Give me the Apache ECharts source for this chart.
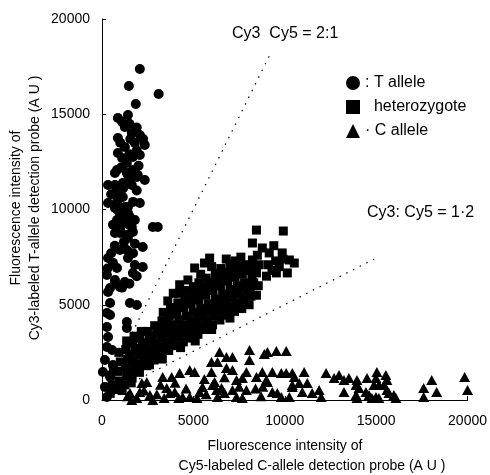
<!DOCTYPE html>
<html><head><meta charset="utf-8">
<script src="https://cdn.jsdelivr.net/npm/echarts@6/dist/echarts.min.js"></script>
<style>html,body{margin:0;padding:0;background:#fff}#c{width:490px;height:475px}</style>
</head><body><div id="c"></div>
<script>
var xTicks = [0, 5000, 10000, 15000, 20000];
var yTicks = [0, 5000, 10000, 15000, 20000];

var tAllele = [
[2070,17380],[1470,16480],[3100,16060],[1850,15540],
[1420,14960],[870,14800],[1250,14330],[1630,14020],[2070,13910],[870,13750],[2340,13390],[1800,13490],[1250,13280],[870,12970],[1690,12760],[2070,12860],[1360,12440],[820,12070],[1690,12070],[1360,11920],[2340,11550],[1910,11710],[330,11290],[710,11290],[1140,11390],[1630,11290],[710,10870],[1140,10660],[820,10400],[330,10340],[2070,10340],[1420,10130],[710,10080],[980,9820],[1530,9610],[1800,9450],[1140,9340],[2780,9080],[3050,9080],[710,8770],[1360,8660],[1690,8820],
[710,11920],[1420,11810],[1960,11810],[980,10660],[1250,10130],[870,9970],[1420,9820],[820,9450],[1250,9290],[1630,9080],[980,8770],[1420,8500],[2230,8030],[980,7870],[1360,7870],[330,7450],[1420,7450],[1800,7090],[2230,6980],[820,6930],[270,6560],[1690,6670],[710,6300],[1250,6190],[440,5880],[980,5930],[710,6140],
[500,7700],[1700,7700],[600,7200],[1900,6500],[1500,6100],[300,6900],[1100,5900],
[1100,14600],[1500,14500],[1900,14300],[1000,13500],[1550,13700],[2250,13700],[1100,12700],[1500,12900],[1900,13100],[1050,12200],[2000,12300],[1500,11600],[1150,11100],[1900,11000],[500,10800],[1700,10400],[1100,10000],[1250,9600],[1500,9200],[600,9200],[1000,9000],[1200,8300],[700,8100],[1800,8200],
[330,5670],[440,5090],[1530,5090],[1910,4990],[270,4570],[440,4460],[1360,4090],[1360,3780],[270,3830],[330,3310],[270,2780],[550,2620],[160,2100],[600,1840],[50,1470],[440,1210],[160,680],[550,520],[270,160]
];

var hetero = [
[450,350],[550,800],[480,1300],[620,1750],
[850,550],[950,1000],[880,1500],[1000,2000],[920,2500],
[1250,800],[1350,1250],[1280,1700],[1400,2150],[1300,2650],[1350,3100],
[1650,1150],[1750,1600],[1700,2050],[1800,2500],[1680,2950],[1750,3350],
[2050,1450],[2150,1900],[2100,2350],[2200,2800],[2080,3250],[2150,3600],
[2450,1800],[2550,2250],[2500,2700],[2600,3150],[2480,3600],
[2850,2100],[2950,2550],[2900,3000],[3000,3450],[2880,3900],
[3250,2350],[3350,2800],[3300,3250],[3400,3700],[3280,4150],[3350,4600],
[3650,2600],[3750,3050],[3700,3500],[3800,3950],[3680,4400],[3750,4850],[3600,5200],
[4050,2850],[4150,3300],[4100,3750],[4200,4200],[4080,4650],[4150,5100],[4200,5600],[4250,6050],
[4450,3050],[4550,3500],[4500,3950],[4600,4400],[4480,4850],[4550,5300],[4600,5750],
[4850,3250],[4950,3700],[4900,4150],[5000,4600],[4880,5050],[4950,5500],[5000,5950],[5070,6930],
[5250,3450],[5350,3900],[5300,4350],[5400,4800],[5280,5250],[5350,5700],[5300,6150],[5610,7190],
[5650,3700],[5750,4150],[5700,4600],[5800,5050],[5680,5500],[5750,5950],[5700,6400],[5890,7450],
[6050,3950],[6150,4400],[6100,4850],[6200,5300],[6080,5750],[6150,6200],[6200,6650],
[6450,4200],[6550,4650],[6500,5100],[6600,5550],[6480,6000],[6550,6450],[6500,6900],
[6850,4450],[6950,4900],[6900,5350],[7000,5800],[6880,6250],[6950,6700],[7000,7150],
[7250,4650],[7350,5100],[7300,5550],[7400,6000],[7280,6450],[7350,6900],[7300,7300],
[7650,4800],[7750,5250],[7700,5700],[7800,6150],[7680,6600],[7750,7050],[7900,6820],
[8050,5000],[8150,5450],[8100,5900],[8200,6350],[8080,6800],[8230,7350],[8230,8240],
[8450,5500],[8550,6000],[8450,6670],[8600,7100],[8500,7600],[8770,7980],[8450,8920],
[9000,6500],[9150,7720],[9100,7100],[9300,6800],
[9540,6670],[9500,7300],[9400,8100],[9700,7000],
[9860,7720],[10140,6670],[10250,7350],[10520,7190],[9920,8870],[9900,7400],
[1500,1450],[1900,1800],[2300,2100],[2700,2450],[3100,2700],[3500,3000],[3900,3300],[4300,3550],[4700,3800],[5100,4050],[5500,4350],[5900,4650],[6300,4900],[6700,5150],[7100,5400],[7500,5650],[7900,5900],[8300,6150],
[1500,2400],[1900,2700],[2300,3000],[2700,3400],[3100,3700],[3500,4100],[3900,4500],[4300,4900],[4700,5200],[5100,5400],[5500,5700],[5900,6000],[6300,6300],[6700,6500],[7100,6700],[7500,6900],[7900,7100],[8300,7000],
[3900,5600],[4700,6300],[5400,6600],[6000,7000],[6800,7400],[7600,7500],
[1100,500],[1600,900],[2600,1850],[3300,2150],[4300,2750],[5100,3100],[6000,3700],[7000,4300]
];

var cAllele = [
[6430,2520],[6810,2260],[7140,2260],[5990,1990],[6320,1990],[8070,2620],[8070,2100],[8880,2410],[9050,2520],[9540,2570],[10080,2570],[4800,1570],[5070,1470],[4250,1420],[3810,1210],[3320,1210],[2450,950],[2180,890],[5990,1470],[6810,1680],[7140,1570],[7900,1470],[7360,1050],[7680,1150],[8450,1210],[8770,1470],[9320,1470],[9810,1420],[10080,1420],[10410,1420],[8990,1050],[9050,950],[10410,680],[9320,420],[9590,370],[9810,160],[10250,160],[1530,370],[1630,0],[2070,420],[2620,260],[2780,0],[3540,630],[3710,370],[3980,420],[4410,160],[4800,160],[5340,420],[5500,680],[6050,790],[6270,520],[6320,160],[6160,950],[6540,630],[6700,370],[7140,520],[7360,160],[7680,100],[7900,520],
[11060,1470],[10520,1210],[10410,790],[10790,890],[11230,890],[10960,420],[11500,370],[11880,520],[11990,160],[12260,1420],[12700,1150],[12970,1310],[13240,1050],[13510,1150],[13240,420],[13950,1050],[13900,790],[14060,630],[13900,260],[13950,100],[14500,1150],[15040,1470],[14990,1150],[14880,790],[15150,790],[14440,420],[14610,260],[14770,100],[15530,1310],[15590,1050],[15420,790],[15590,520],[15700,370],[15970,260],[16080,100],[14990,160],[15150,100],[17600,630],[18040,1050],[18310,420],[17600,160],[19840,1210],[20000,520],
[1400,200],[1900,100],[2300,500],[3000,300],[3200,800],[4000,900],[4600,600],[5200,100],[5700,300],[3400,100],[4200,100],[8700,200],[8400,600],[6700,1200],[5600,1100],[7500,700],[8800,700]
];

var ratio21 = [[1100,2450],[9250,18250]];
var ratio12 = [[1300,750],[15100,7500]];

var legendNames = {'T allele': ': T allele', 'heterozygote': '  heterozygote', 'C allele': '\u00b7 C allele'};
var FONT = 'Liberation Sans, Arial, sans-serif';

var chart = echarts.init(document.getElementById('c'), null, {renderer: 'canvas'});
chart.setOption({
  animation: false,
  backgroundColor: '#fff',
  grid: {left: 102, right: 20, top: 19, bottom: 75, containLabel: false},
  xAxis: {
    type: 'value', min: 0, max: 20000, interval: 5000,
    axisLine: {show: true, lineStyle: {color: '#000', width: 1}},
    axisTick: {show: true, inside: true, length: 4, lineStyle: {color: '#000'}},
    splitLine: {show: false},
    axisLabel: {color: '#000', fontSize: 14, fontFamily: FONT, margin: 14,
      customValues: xTicks, formatter: function (v) { return String(v); }}
  },
  yAxis: {
    type: 'value', min: 0, max: 20000, interval: 5000,
    axisLine: {show: true, lineStyle: {color: '#000', width: 1}},
    axisTick: {show: true, inside: true, length: 4, lineStyle: {color: '#000'}},
    splitLine: {show: false},
    axisLabel: {color: '#000', fontSize: 14, fontFamily: FONT, margin: 12,
      customValues: yTicks, formatter: function (v) { return String(v); }}
  },
  legend: {
    orient: 'vertical', left: 341, top: 70, itemWidth: 14, itemHeight: 14, itemGap: 8,
    textStyle: {color: '#000', fontSize: 16, fontFamily: FONT},
    formatter: function (n) { return legendNames[n]; },
    data: [{name: 'T allele', icon: 'circle'}, {name: 'heterozygote', icon: 'rect'}, {name: 'C allele', icon: 'triangle'}]
  },
  graphic: [
    {type: 'text', left: 232, top: 26, style: {text: 'Cy3  Cy5 = 2:1', fill: '#000', fontSize: 16, fontFamily: FONT}},
    {type: 'text', left: 367, top: 205, style: {text: 'Cy3: Cy5 = 1\u00b72', fill: '#000', fontSize: 16, fontFamily: FONT}},
    {type: 'text', x: 285, y: 446, style: {text: 'Fluorescence intensity of', fill: '#000', fontSize: 14, fontFamily: FONT, align: 'center', verticalAlign: 'middle'}},
    {type: 'text', x: 312, y: 466, style: {text: 'Cy5-labeled C-allele detection probe (A U )', fill: '#000', fontSize: 14, fontFamily: FONT, align: 'center', verticalAlign: 'middle'}},
    {type: 'text', x: 16, y: 208, rotation: Math.PI / 2, style: {text: 'Fluorescence intensity of', fill: '#000', fontSize: 14, fontFamily: FONT, align: 'center', verticalAlign: 'middle'}},
    {type: 'text', x: 35, y: 208, rotation: Math.PI / 2, style: {text: 'Cy3-labeled T-allele detection probe (A U )', fill: '#000', fontSize: 14, fontFamily: FONT, align: 'center', verticalAlign: 'middle'}}
  ],
  series: [
    {name: 'ratio 2:1', type: 'line', data: ratio21, symbol: 'none', silent: true,
      lineStyle: {color: '#000', width: 1.2, type: [1.5, 6]}},
    {name: 'ratio 1:2', type: 'line', data: ratio12, symbol: 'none', silent: true,
      lineStyle: {color: '#000', width: 1.2, type: [1.5, 6]}},
    {name: 'C allele', type: 'scatter', data: cAllele, symbol: 'triangle', symbolSize: [11, 10],
      itemStyle: {color: '#000', opacity: 1}},
    {name: 'heterozygote', type: 'scatter', data: hetero, symbol: 'rect', symbolSize: 9,
      itemStyle: {color: '#000', opacity: 1}},
    {name: 'T allele', type: 'scatter', data: tAllele, symbol: 'circle', symbolSize: 10,
      itemStyle: {color: '#000', opacity: 1}}
  ]
});
</script>
</body></html>
